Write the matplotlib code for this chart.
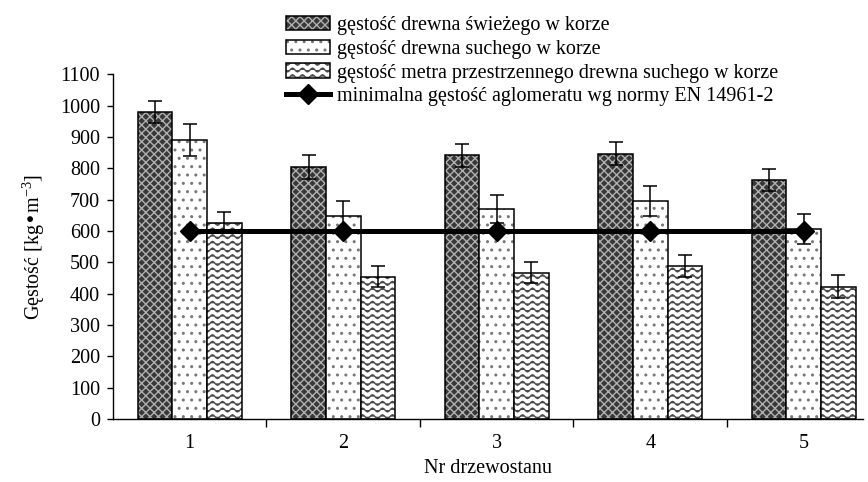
import warnings
import numpy as np
import matplotlib
matplotlib.use("Agg")
import matplotlib.pyplot as plt
from matplotlib import hatch as mhatch
from matplotlib.path import Path

warnings.filterwarnings("ignore")

# data
stands = ["1", "2", "3", "4", "5"]
fresh = [980, 804, 842, 847, 762]          # gęstość drewna świeżego w korze
fresh_err = [36, 37, 37, 37, 35]
dry = [890, 648, 670, 696, 605]            # gęstość drewna suchego w korze
dry_err = [50, 47, 45, 49, 48]
stacked = [627, 454, 467, 488, 422]        # gęstość metra przestrzennego
stacked_err = [32, 34, 34, 36, 36]
norm_min = [600, 600, 600, 600, 600]       # EN 14961-2

labels = ["gęstość drewna świeżego w korze",
          "gęstość drewna suchego w korze",
          "gęstość metra przestrzennego drewna suchego w korze",
          "minimalna gęstość aglomeratu wg normy EN 14961-2"]


# wavy hatch, '~' (matplotlib has no wave pattern of its own)
class WaveHatch(mhatch.HatchPatternBase):
    def __init__(self, hatch, density):
        n = hatch.count('~')
        self.num_rows = 15 * n
        self.num_periods = 10
        self.pts = self.num_periods * 8 + 1
        self.num_vertices = self.num_rows * self.pts

    def set_vertices_and_codes(self, vertices, codes):
        xs = np.linspace(0, 1, self.pts)
        wave = 0.019 * np.sin(2 * np.pi * self.num_periods * xs)
        for r in range(self.num_rows):
            y0 = (r + 0.5) / self.num_rows
            sl = slice(r * self.pts, (r + 1) * self.pts)
            vertices[sl, 0] = xs
            vertices[sl, 1] = y0 + wave
            codes[sl] = Path.LINETO
            codes[r * self.pts] = Path.MOVETO


mhatch._hatch_types.append(WaveHatch)

plt.rcParams['font.family'] = ['Liberation Serif', 'DejaVu Serif']
plt.rcParams['mathtext.default'] = 'regular'
plt.rcParams['hatch.linewidth'] = 1.0
FS = 14.5

fig = plt.figure(figsize=(8.68, 4.82), dpi=100)
ax = fig.add_axes([113 / 868, 1 - 419 / 482, 750 / 868, 344.7 / 482])

x = np.arange(len(stands))
w = 0.225
styles = [
    (fresh, fresh_err, -w, '#383838', '#b0b0b0', 'xxxx'),
    (dry, dry_err, 0, 'white', '#777777', '..'),
    (stacked, stacked_err, w, 'white', '#4a4a4a', '~'),
]
handles = []
for vals, errs, off, fc, hc, hp in styles:
    h1 = ax.bar(x + off, vals, w, color=fc, edgecolor=hc, hatch=hp, linewidth=0)
    h2 = ax.bar(x + off, vals, w, fill=False, edgecolor='black', linewidth=1.1)
    ax.errorbar(x + off, vals, yerr=errs, fmt='none', ecolor='black',
                elinewidth=1.1, capsize=4.7, capthick=1.1, zorder=3)
    handles.append((h1[0], h2[0]))

line, = ax.plot(x, norm_min, color='black', lw=3.6, marker='D', ms=10, zorder=4)
handles.append(line)

ax.set_xlim(-0.5, 4.386)
ax.set_ylim(0, 1100)
ax.set_yticks(np.arange(0, 1101, 100))
ax.set_xticks(x)
ax.set_xticklabels(stands)
ax.set_xticks(x[:-1] + 0.5, minor=True)
ax.tick_params(axis='x', which='major', length=0, pad=11, labelsize=FS)
ax.tick_params(axis='x', which='minor', length=6, width=1, direction='out')
ax.tick_params(axis='y', length=4.3, width=1, direction='out', labelsize=FS, pad=5)
for s in ['top', 'right']:
    ax.spines[s].set_visible(False)
for s in ['left', 'bottom']:
    ax.spines[s].set_linewidth(1)

ax.set_xlabel("Nr drzewostanu", fontsize=FS, labelpad=4)
ax.set_ylabel("Gęstość [kg•m$^{-3}$]", fontsize=FS, labelpad=9)

fig.legend(handles, labels, loc='upper left', bbox_to_anchor=(286 / 868, 1 - 16 / 482),
           frameon=False, fontsize=FS, borderpad=0, borderaxespad=0,
           handlelength=2.2, handleheight=0.7, handletextpad=0.35,
           labelspacing=0.23)

fig.savefig("out.png", dpi=100)
